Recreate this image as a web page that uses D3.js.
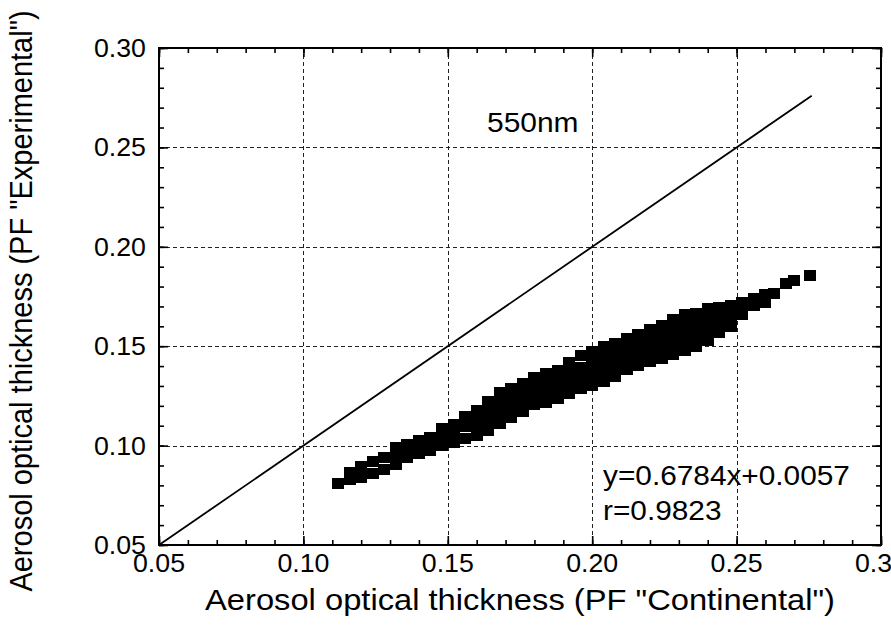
<!DOCTYPE html>
<html>
<head>
<meta charset="utf-8">
<script src="https://cdn.jsdelivr.net/npm/d3@7"></script>
<style>
  body { margin: 0; background: #fff; }
  svg { display: block; }
  text { font-family: "Liberation Sans", Arial, sans-serif; fill: #000; }
</style>
</head>
<body>
<svg id="chart" width="891" height="635"></svg>
<script>
//
// Data
//

// columns of markers in the dense band: x value and the y values seen in that column
var bandX = [0.112, 0.116, 0.120, 0.124, 0.128, 0.132, 0.136, 0.140, 0.144, 0.148,
             0.152, 0.156, 0.160, 0.164, 0.168, 0.172, 0.176, 0.180, 0.184, 0.188,
             0.192, 0.196, 0.200, 0.204, 0.208, 0.212, 0.216, 0.220, 0.224, 0.228,
             0.232, 0.236, 0.240, 0.244, 0.248, 0.252, 0.256, 0.260, 0.263]
var bandY = [
  [0.0807],
  [0.0867, 0.0827],
  [0.0897, 0.0842],
  [0.0918, 0.0862],
  [0.0938, 0.0882],
  [0.0988, 0.0948, 0.0907],
  [0.1008, 0.0973, 0.0938],
  [0.1028, 0.0993, 0.0958],
  [0.1043, 0.1008, 0.0973],
  [0.1084, 0.1041, 0.0998],
  [0.1104, 0.1061, 0.1018],
  [0.1144, 0.1094, 0.1036],
  [0.1179, 0.1139, 0.1094, 0.1053],
  [0.1224, 0.1179, 0.1129, 0.1078],
  [0.1265, 0.1219, 0.1169, 0.1109],
  [0.1285, 0.1239, 0.1189, 0.1139],
  [0.1310, 0.1265, 0.1219, 0.1174],
  [0.1345, 0.1300, 0.1255, 0.1209],
  [0.1363, 0.1315, 0.1270, 0.1219],
  [0.1380, 0.1335, 0.1290, 0.1239],
  [0.1416, 0.1365, 0.1310, 0.1260],
  [0.1451, 0.1395, 0.1340, 0.1285],
  [0.1473, 0.1431, 0.1385, 0.1340, 0.1300],
  [0.1496, 0.1451, 0.1405, 0.1360, 0.1320],
  [0.1516, 0.1471, 0.1426, 0.1385, 0.1350],
  [0.1539, 0.1496, 0.1451, 0.1410, 0.1385],
  [0.1559, 0.1516, 0.1471, 0.1431, 0.1403],
  [0.1584, 0.1541, 0.1496, 0.1456, 0.1421],
  [0.1602, 0.1556, 0.1511, 0.1471, 0.1438],
  [0.1632, 0.1587, 0.1541, 0.1496, 0.1456],
  [0.1657, 0.1612, 0.1566, 0.1521, 0.1476],
  [0.1664, 0.1622, 0.1576, 0.1531, 0.1499],
  [0.1692, 0.1647, 0.1602, 0.1561, 0.1531],
  [0.1697, 0.1652, 0.1612, 0.1571],
  [0.1707, 0.1667, 0.1632, 0.1597],
  [0.1722, 0.1687, 0.1657],
  [0.1742, 0.1707],
  [0.1758, 0.1722],
  [0.1763]
]
// the few separate markers at the top end
var tailX = [0.2671, 0.2699, 0.2754]
var tailY = [0.1813, 0.1828, 0.1856]

// 1:1 reference line
var refLine = [0.05, 0.276]

var majorTicks = [0.05, 0.10, 0.15, 0.20, 0.25, 0.30]
var gridTicks = [0.10, 0.15, 0.20, 0.25]
var tickLabels = ['0.05', '0.10', '0.15', '0.20', '0.25', '0.30']

var waveLabel = '550nm'
var fitText = ['y=0.6784x+0.0057', 'r=0.9823']
var xTitle = 'Aerosol optical thickness (PF "Continental")'
var yTitle = 'Aerosol optical thickness (PF "Experimental")'

//
// Layout
//

var pLeft = 159, pRight = 881, pTop = 48, pBottom = 545
var svg = d3.select('#chart')

var x = d3.scaleLinear().domain([0.05, 0.30]).range([pLeft, pRight])
var y = d3.scaleLinear().domain([0.05, 0.30]).range([pBottom, pTop])

var minorTicks = d3.range(0, 26).map(function (i) { return 0.05 + i * 0.01 })

// grid
var grid = svg.append('g').attr('stroke', '#222').attr('stroke-width', 1)
  .attr('stroke-dasharray', '4,3').attr('shape-rendering', 'crispEdges')
grid.selectAll('line.gx').data(gridTicks).enter().append('line')
  .attr('x1', function (d) { return Math.round(x(d)) + 0.5 })
  .attr('x2', function (d) { return Math.round(x(d)) + 0.5 })
  .attr('y1', pTop).attr('y2', pBottom)
grid.selectAll('line.gy').data(gridTicks).enter().append('line')
  .attr('y1', function (d) { return Math.round(y(d)) + 0.5 })
  .attr('y2', function (d) { return Math.round(y(d)) + 0.5 })
  .attr('x1', pLeft).attr('x2', pRight)

// 1:1 line
svg.append('line')
  .attr('x1', x(refLine[0])).attr('y1', y(refLine[0]))
  .attr('x2', x(refLine[1])).attr('y2', y(refLine[1]))
  .attr('stroke', '#000').attr('stroke-width', 1.8)

// markers
var pts = []
bandX.forEach(function (xv, i) {
  bandY[i].forEach(function (yv) { pts.push([xv, yv]) })
})
tailX.forEach(function (xv, i) { pts.push([xv, tailY[i]]) })

var mw = 12, mh = 11
svg.append('g').attr('shape-rendering', 'crispEdges')
  .selectAll('rect').data(pts).enter().append('rect')
  .attr('x', function (d) { return Math.round(x(d[0]) - mw / 2) })
  .attr('y', function (d) { return Math.round(y(d[1]) - mh / 2) })
  .attr('width', mw).attr('height', mh)
  .attr('fill', '#000')

// axes, ticks pointing inward on all four sides
function drawAxis(axis, tr) {
  var g = svg.append('g').attr('transform', tr).call(axis)
  g.selectAll('text').remove()
  g.select('.domain').remove()
  g.selectAll('line').attr('stroke', '#000').attr('stroke-width', 1.6)
  return g
}
drawAxis(d3.axisBottom(x).tickValues(minorTicks).tickSize(-5), 'translate(0,' + pBottom + ')')
drawAxis(d3.axisBottom(x).tickValues(majorTicks).tickSize(-9), 'translate(0,' + pBottom + ')')
drawAxis(d3.axisTop(x).tickValues(minorTicks).tickSize(-5), 'translate(0,' + pTop + ')')
drawAxis(d3.axisTop(x).tickValues(majorTicks).tickSize(-9), 'translate(0,' + pTop + ')')
drawAxis(d3.axisLeft(y).tickValues(minorTicks).tickSize(-5), 'translate(' + pLeft + ',0)')
drawAxis(d3.axisLeft(y).tickValues(majorTicks).tickSize(-9), 'translate(' + pLeft + ',0)')
drawAxis(d3.axisRight(y).tickValues(minorTicks).tickSize(-5), 'translate(' + pRight + ',0)')
drawAxis(d3.axisRight(y).tickValues(majorTicks).tickSize(-9), 'translate(' + pRight + ',0)')

svg.append('rect')
  .attr('x', pLeft).attr('y', pTop)
  .attr('width', pRight - pLeft).attr('height', pBottom - pTop)
  .attr('fill', 'none').attr('stroke', '#000').attr('stroke-width', 2)

// text helper: places a label, widened by sx (the original type is a bit wider than Arial)
function label(tx, ty, txt, size, anchor, sx, rot) {
  var tr = 'translate(' + tx + ',' + ty + ') scale(' + (sx || 1) + ',1)'
  if (rot) tr += ' rotate(-90)'
  return svg.append('text').attr('transform', tr)
    .attr('text-anchor', anchor || 'start').attr('font-size', size).text(txt)
}

// tick labels
majorTicks.forEach(function (d, i) {
  label(x(d), pBottom + 27, tickLabels[i], 25, 'middle', 1.07)
  label(pLeft - 13, y(d) + 9, tickLabels[i], 25, 'end', 1.07)
})

// annotations
label(487, 132, waveLabel, 28, 'start', 1.07)
label(603, 485, fitText[0], 28, 'start', 1.065)
label(603, 520, fitText[1], 28, 'start', 1.065)

// axis titles
label((pLeft + pRight) / 2, 610, xTitle, 30, 'middle', 1.09)
label(32, 301, yTitle, 29, 'middle', 1.05, true)
</script>
</body>
</html>
